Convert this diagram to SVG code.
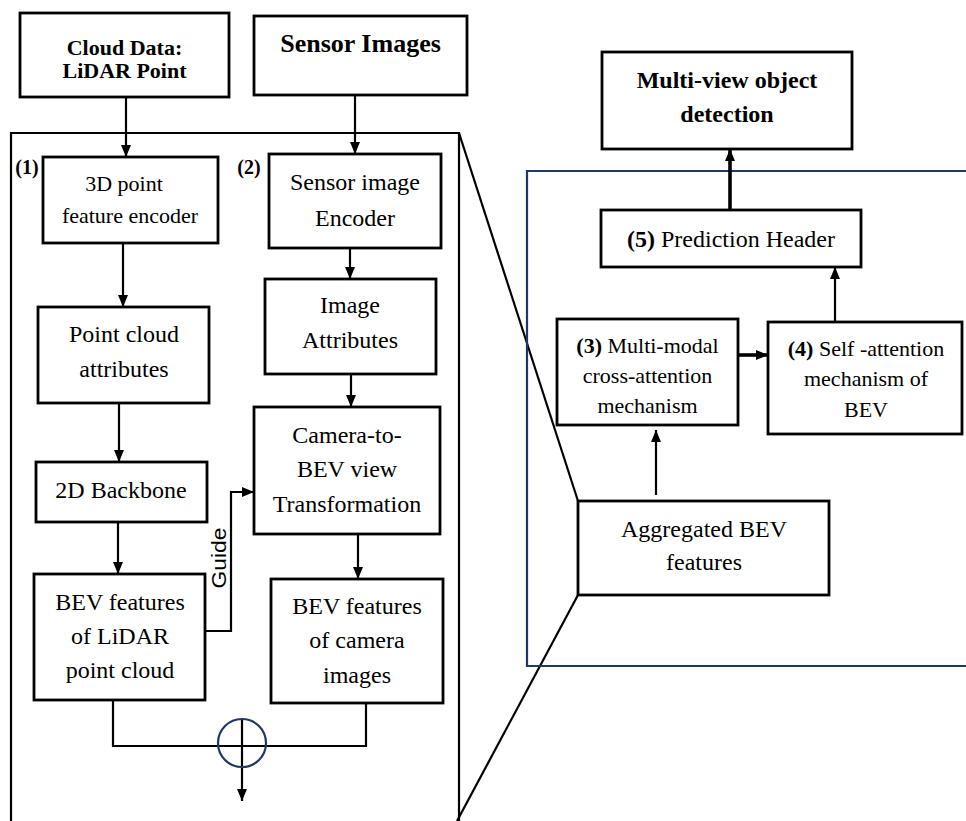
<svg xmlns="http://www.w3.org/2000/svg" width="966" height="821" viewBox="0 0 966 821">
  <style>
    .box { fill: #ffffff; stroke: #000000; stroke-width: 2.8; }
    .wire { fill: none; stroke: #000000; stroke-width: 2.2; }
    .thick { stroke-width: 3.6; }
    .frame { fill: none; stroke: #000000; stroke-width: 2.2; }
    .navy { fill: none; stroke: #1f3864; stroke-width: 2.2; }
  </style>
  <defs>
    <marker id="ah" viewBox="0 0 12 10" refX="12" refY="5" markerWidth="12" markerHeight="10" markerUnits="userSpaceOnUse" orient="auto">
      <path d="M0,0 L12,5 L0,10 z" fill="#000000"/>
    </marker>
  </defs>
  <rect width="966" height="821" fill="#ffffff"/>

  <!-- enclosing frames and zoom lines -->
  <g id="frames">
    <path class="frame" d="M11,821 V133 H459 V821"/>
    <path class="frame" d="M459,133 L578,501"/>
    <path class="frame" d="M578,595 L457,821"/>
    <path class="navy" d="M966,171 H527 V666 H966"/>
  </g>

  <!-- connectors -->
  <g id="connectors">
    <path class="wire" d="M126,97 V157" marker-end="url(#ah)"/>
    <path class="wire" d="M123,243 V307" marker-end="url(#ah)"/>
    <path class="wire" d="M119,403 V462" marker-end="url(#ah)"/>
    <path class="wire" d="M118,522 V574" marker-end="url(#ah)"/>
    <path class="wire" d="M355,95 V154" marker-end="url(#ah)"/>
    <path class="wire" d="M350,248 V279" marker-end="url(#ah)"/>
    <path class="wire" d="M351,374 V407" marker-end="url(#ah)"/>
    <path class="wire" d="M358,534 V579" marker-end="url(#ah)"/>
    <path class="wire" d="M205,631 H231 V492 H254" marker-end="url(#ah)"/>
    <text transform="translate(226,558) rotate(-90)" font-family="Liberation Sans, sans-serif" font-size="20" text-anchor="middle" textLength="61" lengthAdjust="spacingAndGlyphs">Guide</text>
    <path class="wire" d="M113,700 V746 H366 V703"/>
    <path class="wire" d="M242,719 V801" marker-end="url(#ah)"/>
    <circle class="navy" cx="242" cy="743" r="24"/>
    <path class="wire" d="M656,495 V430" marker-end="url(#ah)"/>
    <path class="wire thick" d="M738,355 H768" marker-end="url(#ah)"/>
    <path class="wire" d="M835,322 V267" marker-end="url(#ah)"/>
    <path class="wire thick" d="M730,210 V149" marker-end="url(#ah)"/>
  </g>

  <g font-family="Liberation Serif, serif" font-size="24" text-anchor="middle" fill="#000000">
    <g id="lidar-input">
      <rect class="box" x="20" y="13" width="209" height="84"/>
      <text x="124.5" y="55" font-size="22" font-weight="bold">Cloud Data:</text>
      <text x="124.5" y="78" font-size="22" font-weight="bold">LiDAR Point</text>
    </g>

    <g id="sensor-images">
      <rect class="box" x="254" y="16" width="213" height="79"/>
      <text x="360.5" y="52" font-size="26" font-weight="bold">Sensor Images</text>
    </g>

    <g id="point-encoder">
      <text x="27" y="174" font-size="20" font-weight="bold">(1)</text>
      <rect class="box" x="43" y="157" width="175" height="86"/>
      <text x="124" y="191" font-size="22">3D point</text>
      <text x="130" y="223" font-size="22">feature encoder</text>
    </g>

    <g id="image-encoder">
      <text x="249" y="174" font-size="20" font-weight="bold">(2)</text>
      <rect class="box" x="269" y="154" width="172" height="94"/>
      <text x="355" y="190">Sensor image</text>
      <text x="355" y="226">Encoder</text>
    </g>

    <g id="point-attributes">
      <rect class="box" x="38" y="307" width="171" height="96"/>
      <text x="124" y="342">Point cloud</text>
      <text x="124" y="377">attributes</text>
    </g>

    <g id="image-attributes">
      <rect class="box" x="265" y="279" width="171" height="95"/>
      <text x="350" y="313">Image</text>
      <text x="350" y="348">Attributes</text>
    </g>

    <g id="backbone">
      <rect class="box" x="36" y="462" width="171" height="60"/>
      <text x="121" y="498">2D Backbone</text>
    </g>

    <g id="view-transform">
      <rect class="box" x="254" y="407" width="186" height="127"/>
      <text x="347" y="443">Camera-to-</text>
      <text x="347" y="477">BEV view</text>
      <text x="347" y="512">Transformation</text>
    </g>

    <g id="bev-lidar">
      <rect class="box" x="34" y="574" width="171" height="126"/>
      <text x="120" y="610">BEV features</text>
      <text x="120" y="644">of LiDAR</text>
      <text x="120" y="678">point cloud</text>
    </g>

    <g id="bev-camera">
      <rect class="box" x="271" y="579" width="172" height="124"/>
      <text x="357" y="614">BEV features</text>
      <text x="357" y="648">of camera</text>
      <text x="357" y="683">images</text>
    </g>

    <g id="detection-output">
      <rect class="box" x="602" y="52" width="250" height="97"/>
      <text x="727" y="88" font-weight="bold">Multi-view object</text>
      <text x="727" y="122" font-weight="bold">detection</text>
    </g>

    <g id="prediction-header">
      <rect class="box" x="601" y="210" width="260" height="57"/>
      <text x="731" y="247"><tspan font-weight="bold">(5)</tspan> Prediction Header</text>
    </g>

    <g id="cross-attention">
      <rect class="box" x="557" y="319" width="181" height="106"/>
      <text x="647.5" y="353" font-size="22"><tspan font-weight="bold">(3)</tspan> Multi-modal</text>
      <text x="647.5" y="383" font-size="22">cross-attention</text>
      <text x="647.5" y="413" font-size="22">mechanism</text>
    </g>

    <g id="self-attention">
      <rect class="box" x="768" y="322" width="194" height="112"/>
      <text x="866" y="356" font-size="22"><tspan font-weight="bold">(4)</tspan> Self -attention</text>
      <text x="866" y="386" font-size="22">mechanism of</text>
      <text x="866" y="417" font-size="22">BEV</text>
    </g>

    <g id="aggregated-bev">
      <rect class="box" x="578" y="501" width="251" height="94"/>
      <text x="704" y="537">Aggregated BEV</text>
      <text x="704" y="570">features</text>
    </g>
  </g>
</svg>
